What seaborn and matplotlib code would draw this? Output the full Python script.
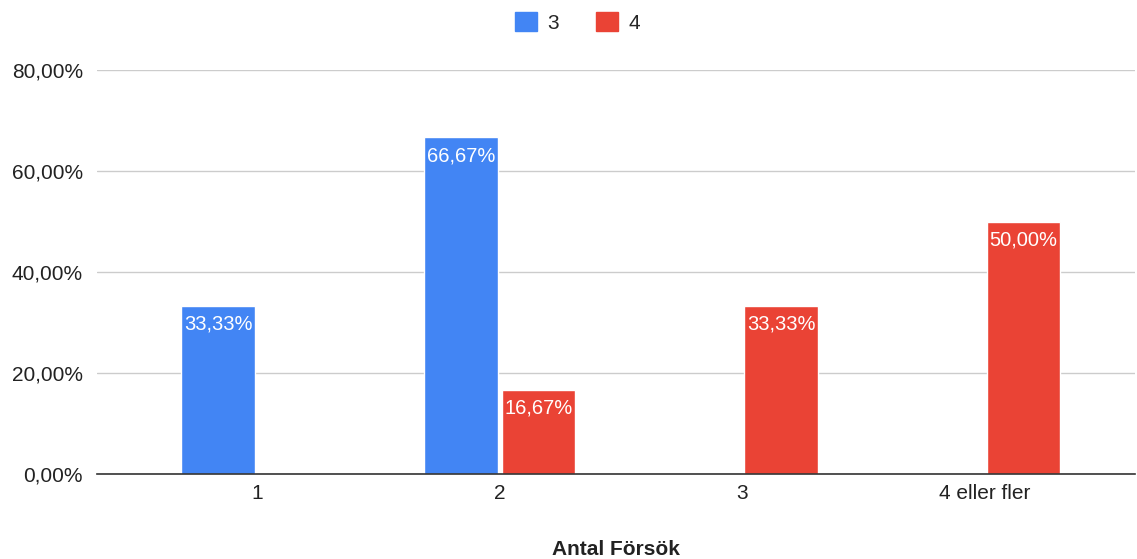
import matplotlib
matplotlib.use("Agg")
import matplotlib.pyplot as plt
import matplotlib.patches as mpatches
from matplotlib.ticker import FuncFormatter
import seaborn as sns
import pandas as pd

categories = ["1", "2", "3", "4 eller fler"]
series_names = ["3", "4"]
values_3 = [33.33, 66.67, 0.0, 0.0]
values_4 = [0.0, 16.67, 33.33, 50.00]
colors = ["#4285F4", "#EA4335"]

df = pd.DataFrame({
    "Antal Försök": categories * 2,
    "serie": [series_names[0]] * 4 + [series_names[1]] * 4,
    "andel": values_3 + values_4,
})

sns.set_theme(style="white")
plt.rcParams["font.family"] = ["Liberation Sans", "DejaVu Sans"]

fig = plt.figure(figsize=(11.37, 5.59), dpi=100)
ax = fig.add_axes([0.0853, 0.152, 0.913, 0.7228])

sns.barplot(data=df, x="Antal Försök", y="andel", hue="serie",
            palette=colors, width=0.64, gap=0.05, ax=ax,
            legend=False, saturation=1)

ax.set_ylim(0, 80)
ax.set_xlim(-0.66, 3.62)
ax.set_yticks([0, 20, 40, 60, 80])
ax.yaxis.set_major_formatter(FuncFormatter(lambda v, p: f"{v:.2f}".replace(".", ",") + "%"))
ax.grid(axis="y", color="#cccccc", linewidth=1)
ax.set_axisbelow(True)
for s in ["top", "right", "left"]:
    ax.spines[s].set_visible(False)
ax.spines["bottom"].set_color("#333333")
ax.spines["bottom"].set_linewidth(1.2)
ax.tick_params(axis="both", length=0, labelsize=15, colors="#222222")
ax.tick_params(axis="x", pad=7)
ax.tick_params(axis="y", pad=10)
ax.set_ylabel("")
ax.set_xlabel("Antal Försök", fontsize=15, fontweight="bold", color="#222222", labelpad=27)

for container in ax.containers:
    for bar in container:
        h = bar.get_height()
        if h > 0:
            ax.annotate(f"{h:.2f}".replace(".", ",") + "%",
                        (bar.get_x() + bar.get_width() / 2, h),
                        xytext=(0, -6.5), textcoords="offset points",
                        ha="center", va="top", color="white", fontsize=14.5)

handles = [mpatches.Patch(color=c, label=n) for c, n in zip(colors, series_names)]
fig.legend(handles=handles, loc="center", bbox_to_anchor=(0.508, 0.96), ncol=2,
           frameon=False, fontsize=15, handlelength=1.05, handleheight=1.05,
           columnspacing=1.8, handletextpad=0.5)

fig.savefig("out.png", dpi=100)
